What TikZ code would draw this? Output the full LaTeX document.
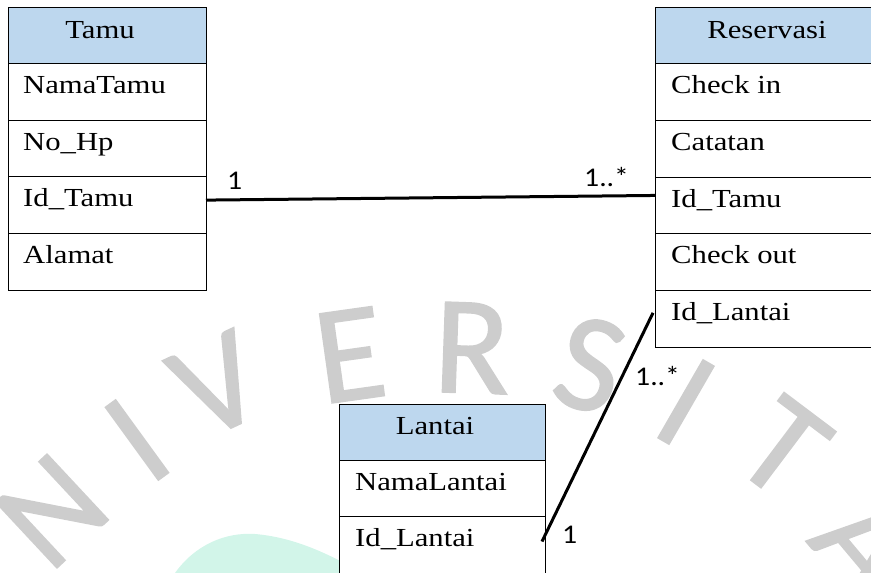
\documentclass[tikz,border=0pt]{standalone}
\usepackage{fontspec}
\setmainfont{Liberation Serif}[FakeStretch=1.18]
\newfontfamily\labelfont{Carlito}[FakeStretch=1.1]
\newfontfamily\markfont{Carlito}[FakeBold=1.2]
\usetikzlibrary{calc}
\definecolor{headblue}{HTML}{BDD7EE}
\definecolor{markgray}{HTML}{CDCDCD}
\definecolor{mint}{HTML}{D2F5E9}

\begin{document}
\begin{tikzpicture}[x=1pt,y=-1pt,
  box/.style={draw=black, line width=0.9pt, inner sep=0pt, outer sep=0pt,
              anchor=north west, minimum height=56.6pt},
  head/.style={box, fill=headblue},
  cellrow/.style={box, fill=white},
  title/.style={font=\fontsize{26}{30}\selectfont, anchor=base, inner sep=0pt},
  attr/.style={font=\fontsize{26}{30}\selectfont, anchor=base west, inner sep=0pt},
  mult/.style={font=\labelfont\fontsize{27}{30}\selectfont, anchor=base west, inner sep=0pt},
  link/.style={line width=3pt, black},
  wmark/.style={text=markgray, font=\markfont\fontsize{140}{140}\selectfont, inner sep=0pt}
]
\useasboundingbox (0,0) rectangle (871,573);
\clip (0,0) rectangle (871,573);

% background emblem and lettering
\fill[mint] (175,573) .. controls (195,545) and (225,532) .. (255,534)
  .. controls (290,537) and (320,550) .. (350,566) -- (350,580) -- (170,580) -- cycle;
\node[wmark, rotate=43]  (wN)  at (52,511)  {N};
\node[wmark, rotate=36]  (wI)  at (137,440) {I};
\node[wmark, rotate=25]  (wV)  at (217,385) {V};
\node[wmark, rotate=8]   (wE)  at (350,355) {E};
\node[wmark, rotate=-2]  (wR)  at (472,348) {R};
\node[wmark, rotate=-15] (wS)  at (590,365) {S};
\node[wmark, rotate=-30] (wI2) at (686,402) {I};
\node[wmark, rotate=-37] (wT)  at (783,448) {T};
\node[wmark, rotate=-50] (wA)  at (866,543) {A};

% Tamu
\node[head, minimum width=198pt] (tamu) at (8,7) {};
\node[cellrow, minimum width=198pt] (tamuNama) at (tamu.south west) {};
\node[cellrow, minimum width=198pt] (tamuHp) at (tamuNama.south west) {};
\node[cellrow, minimum width=198pt] (tamuId) at (tamuHp.south west) {};
\node[cellrow, minimum width=198pt] (tamuAlamat) at (tamuId.south west) {};
\node[title] (tTamu) at ($(tamu.north)+(-7,31)$) {Tamu};
\node[attr] (tTamuNama) at ($(tamuNama.north west)+(15,30)$) {NamaTamu};
\node[attr] (tTamuHp) at ($(tamuHp.north west)+(15,30)$) {No\_Hp};
\node[attr] (tTamuId) at ($(tamuId.north west)+(15,30)$) {Id\_Tamu};
\node[attr] (tTamuAlamat) at ($(tamuAlamat.north west)+(15,30)$) {Alamat};

% Reservasi
\node[head, minimum width=238pt, minimum height=56.7pt] (res) at (655,7) {};
\node[cellrow, minimum width=238pt, minimum height=56.7pt] (resIn) at (res.south west) {};
\node[cellrow, minimum width=238pt, minimum height=56.7pt] (resCat) at (resIn.south west) {};
\node[cellrow, minimum width=238pt, minimum height=56.7pt] (resIdTamu) at (resCat.south west) {};
\node[cellrow, minimum width=238pt, minimum height=56.7pt] (resOut) at (resIdTamu.south west) {};
\node[cellrow, minimum width=238pt, minimum height=56.7pt] (resIdLantai) at (resOut.south west) {};
\node[title] (tRes) at ($(res.north)+(-7,31)$) {Reservasi};
\node[attr] (tResIn) at ($(resIn.north west)+(16,30)$) {Check in};
\node[attr] (tResCat) at ($(resCat.north west)+(16,30)$) {Catatan};
\node[attr] (tResIdTamu) at ($(resIdTamu.north west)+(16,30)$) {Id\_Tamu};
\node[attr] (tResOut) at ($(resOut.north west)+(16,30)$) {Check out};
\node[attr] (tResIdLantai) at ($(resIdLantai.north west)+(16,30)$) {Id\_Lantai};

% Lantai
\node[head, minimum width=206pt, minimum height=56pt] (lantai) at (339,404) {};
\node[cellrow, minimum width=206pt, minimum height=56.5pt] (lantaiNama) at (lantai.south west) {};
\node[cellrow, minimum width=206pt, minimum height=60pt] (lantaiId) at (lantaiNama.south west) {};
\node[title] (tLantai) at ($(lantai.north)+(-7,30)$) {Lantai};
\node[attr] (tLantaiNama) at ($(lantaiNama.north west)+(16,30)$) {NamaLantai};
\node[attr] (tLantaiId) at ($(lantaiId.north west)+(16,30)$) {Id\_Lantai};

% associations
\draw[link] ([yshift=5pt]tamuId.east) -- ([yshift=10pt]resIdTamu.west);
\draw[link] ([xshift=-2pt,yshift=6pt]resIdLantai.west)
  -- ([xshift=-3pt,yshift=5pt]lantaiId.east);

% multiplicities
\node[mult] (m1) at (227,189) {1};
\node[mult] (m2) at (584,186) {1..*};
\node[mult] (m3) at (635,385) {1..*};
\node[mult] (m4) at (562,543) {1};
\end{tikzpicture}
\end{document}
